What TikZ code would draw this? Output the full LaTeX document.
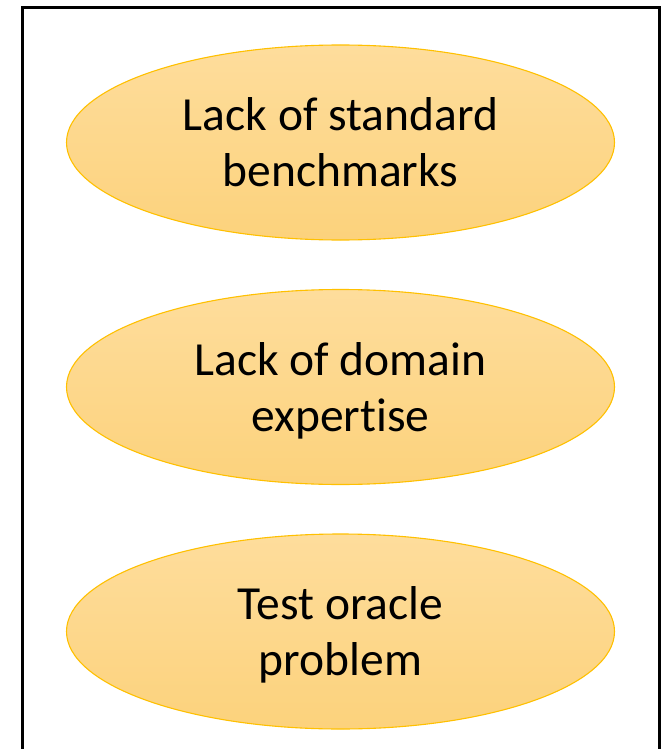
\documentclass[tikz,border=0pt]{standalone}
\usepackage{fontspec}
\setmainfont{Carlito}[Ligatures={NoCommon,NoContextual,NoRare}]
\usetikzlibrary{shapes.geometric,calc}
\definecolor{goldline}{RGB}{255,192,0}
\definecolor{goldtop}{RGB}{254,221,156}
\definecolor{goldbot}{RGB}{252,210,124}
\tikzset{
  issue/.style={ellipse, draw=goldline, line width=1.1pt, top color=goldtop, bottom color=goldbot,
    minimum width=548pt, minimum height=195pt, inner sep=0pt},
  txt/.style={font=\fontsize{47.5}{57}\selectfont, text=black, inner sep=0pt, anchor=base},
  frame/.style={draw=black, line width=3pt}
}
\begin{document}
\begin{tikzpicture}[x=1pt,y=-1pt]
\useasboundingbox (0,0) rectangle (661,749);
\clip (0,0) rectangle (661,749);
\fill[white] (0,0) rectangle (661,749);
\coordinate (fa) at (22,7.5);
\coordinate (fb) at (659,770);
\draw[frame] (fa) rectangle (fb);
\node[issue] (e1) at (340.5,142.5) {};
\node[issue] (e2) at (340.5,387) {};
\node[issue] (e3) at (340.5,631.5) {};
\node[txt] (t1a) at ($(e1.center)+(0,-11.8)$) {Lack of standard};
\node[txt] (t1b) at ($(e1.center)+(0,44.2)$) {benchmarks};
\node[txt] (t2a) at ($(e2.center)+(0,-11.8)$) {Lack of domain};
\node[txt] (t2b) at ($(e2.center)+(0,44.2)$) {expertise};
\node[txt] (t3a) at ($(e3.center)+(0,-11.8)$) {Test oracle};
\node[txt] (t3b) at ($(e3.center)+(0,44.2)$) {problem};
\end{tikzpicture}
\end{document}
